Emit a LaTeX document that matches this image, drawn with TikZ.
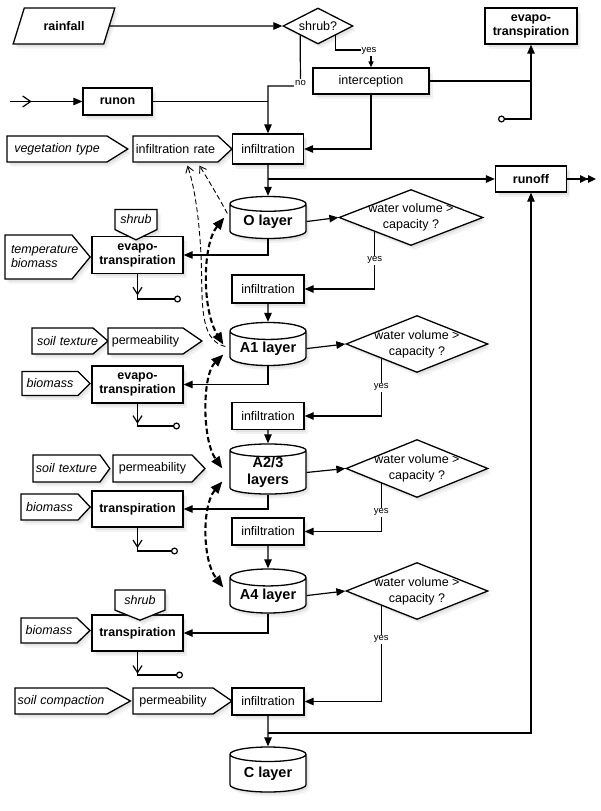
\documentclass[tikz,border=0pt]{standalone}
\usepackage{fontspec}
\setmainfont{Liberation Sans}
\usetikzlibrary{shapes.geometric,shapes.symbols,shadows,arrows.meta,decorations.markings,calc}
\begin{document}
\begin{tikzpicture}[x=1pt,y=-1pt,
  shad/.style={drop shadow={opacity=0.13,shadow xshift=2pt,shadow yshift=-2.5pt},drop shadow={opacity=0.1,shadow xshift=3.5pt,shadow yshift=-4.5pt}},
  base/.style={draw,line width=1.3pt,fill=white,shad,inner sep=0pt,align=center,font=\fontsize{12.5}{14}\selectfont},
  plainbox/.style={base,rectangle},
  boldbox/.style={base,rectangle,font=\bfseries\fontsize{12.5}{14}\selectfont},
  cyl/.style={base,cylinder,shape border rotate=90,aspect=0.3,minimum width=76pt,anchor=shape center,font=\bfseries\fontsize{14.5}{17}\selectfont},
  dia/.style={base,diamond,aspect=2.55,inner xsep=-14pt,inner ysep=-7pt,font=\fontsize{12.5}{16}\selectfont},
  sig/.style={base,signal,signal to=east,font=\itshape\fontsize{12.5}{14}\selectfont},
  sigup/.style={sig,font=\fontsize{12.5}{14}\selectfont},
  sigdown/.style={base,signal,signal to=south,inner ysep=5.5pt,font=\itshape\fontsize{12.5}{14}\selectfont},
  para/.style={base,trapezium,trapezium left angle=58,trapezium right angle=122,trapezium stretches=true,font=\bfseries\fontsize{12.5}{14}\selectfont},
  lbl/.style={fill=white,inner sep=1pt,font=\fontsize{9.5}{11}\selectfont},
  ln/.style={line width=1.2pt},
  arr/.style={ln,-{Triangle[length=9pt,width=7.5pt]}},
  smallarr/.style={ln,-{Triangle[length=6pt,width=5pt]}},
  dblarr/.style={ln,-{Triangle[length=8pt,width=7.5pt]Triangle[length=8pt,width=7.5pt]}},
  outln/.style={ln,-{Circle[open,length=7pt,width=7pt]},postaction={decorate},decoration={markings,mark=at position #1 with {\arrow{Straight Barb[length=7pt,width=9pt]}}}},
  inln/.style={arr,postaction={decorate},decoration={markings,mark=at position #1 with {\arrow{Straight Barb[length=8pt,width=11pt]}}}},
  tdash/.style={line width=2.1pt,dash pattern=on 5.5pt off 3pt,{Triangle[length=12pt,width=9.5pt]}-{Triangle[length=12pt,width=9.5pt]}},
  tndash/.style={line width=0.9pt,dash pattern=on 5pt off 3pt,-{Straight Barb[length=6pt,width=8pt]}}
]
\useasboundingbox (0,0) rectangle (600,811);

% ---- nodes ----
\node[para,minimum width=102pt,minimum height=36pt] (rain) at (64,26) {rainfall};
\node[base,diamond,aspect=2,minimum width=70pt,minimum height=36pt] (shrubq) at (318,26) {shrub?};
\node[boldbox,minimum width=92pt,minimum height=36pt] (evT) at (531,26) {evapo-\\transpiration};
\node[boldbox,minimum width=69pt,minimum height=27pt] (runon) at (117.5,101.5) {runon};
\node[plainbox,minimum width=116pt,minimum height=26pt] (interc) at (371,81) {interception};
\node[sig,text width=100pt,minimum height=26pt,signal pointer angle=64] (veg) at (57,149) {vegetation type};
\node[sigup,text width=85pt,minimum height=26pt,signal pointer angle=86] (irate) at (175.5,149) {infiltration rate};
\node[plainbox,minimum width=71pt,minimum height=30pt] (inf0) at (268,149) {infiltration};
\node[boldbox,minimum width=71pt,minimum height=26pt] (runoff) at (531,179) {runoff};
\node[cyl,minimum height=42pt] (O) at (268,217.5) {O layer};
\node[dia,minimum width=144pt,minimum height=56pt] (d1) at (411,217.5) {water volume >\\capacity ?};
\node[boldbox,minimum width=91pt,minimum height=37pt] (ev1) at (137.5,255) {evapo-\\transpiration};
\node[sigdown,text width=42pt,signal pointer angle=128] (sh1) at (136,219.5) {shrub};
\node[sig,text width=55pt,inner xsep=6pt,align=left,minimum height=44pt,signal pointer angle=101] (temp) at (38.5,257) {temperature\\biomass};
\coordinate (o1) at (181,299);
\node[plainbox,minimum width=72pt,minimum height=28pt] (inf1) at (268,289) {infiltration};
\node[sig,text width=61pt,align=left,minimum height=26pt,signal pointer angle=82] (st1) at (62.5,341) {\hspace*{5pt}\mbox{soil texture}};
\node[sigup,text width=75pt,minimum height=26pt,signal pointer angle=69] (pm1) at (145.5,341) {permeability};
\node[cyl,minimum height=43pt] (A1) at (268,344) {A1 layer};
\node[dia,minimum width=142pt,minimum height=57pt] (d2) at (417,344) {water volume >\\capacity ?};
\node[boldbox,minimum width=91pt,minimum height=37pt] (ev2) at (137.5,384.5) {evapo-\\transpiration};
\node[sig,text width=56pt,minimum height=24pt,signal pointer angle=90] (bm1) at (50,383.5) {biomass};
\coordinate (o2) at (180,426);
\node[plainbox,minimum width=72pt,minimum height=27pt] (inf2) at (268,416) {infiltration};
\node[cyl,minimum height=46pt] (A23) at (268,469) {A2/3\\layers};
\node[sig,text width=67pt,minimum height=27pt,signal pointer angle=108] (st2) at (66.5,468.5) {soil texture};
\node[sigup,text width=79pt,minimum height=27pt,signal pointer angle=92] (pm2) at (152.5,468.5) {permeability};
\node[dia,minimum width=142pt,minimum height=58pt] (d3) at (417,468.5) {water volume >\\capacity ?};
\node[boldbox,minimum width=91pt,minimum height=36pt] (tr1) at (137.5,509) {transpiration};
\node[sig,text width=57pt,minimum height=26pt,signal pointer angle=94] (bm2) at (49.5,507) {biomass};
\coordinate (o3) at (178,551);
\node[plainbox,minimum width=72pt,minimum height=27pt] (inf3) at (268,531.5) {infiltration};
\node[cyl,minimum height=44pt] (A4) at (268,591) {A4 layer};
\node[dia,minimum width=142pt,minimum height=57pt] (d4) at (417,591) {water volume >\\capacity ?};
\node[boldbox,minimum width=91pt,minimum height=36pt] (tr2) at (137.5,633) {transpiration};
\node[sigdown,text width=50pt,signal pointer angle=136] (sh2) at (140,600) {shrub};
\node[sig,text width=56pt,minimum height=25pt,signal pointer angle=88] (bm3) at (49,630.5) {biomass};
\coordinate (o4) at (183,675);
\node[sig,text width=92pt,minimum height=26pt,signal pointer angle=58] (sc) at (61,701) {soil compaction};
\node[sigup,text width=80pt,minimum height=26pt,signal pointer angle=69] (pm3) at (173,701) {permeability};
\node[plainbox,minimum width=72pt,minimum height=27pt] (inf4) at (268,701.5) {infiltration};
\node[cyl,minimum height=45pt] (C) at (268,769.5) {C layer};

% ---- helper coordinates ----
\coordinate (nocorner) at (300.5,86);
\coordinate (yescorner) at (371,50);
\coordinate (runin) at (10,101.5);
\coordinate (etc) at (498,119);
\coordinate (roend) at (596,179);
\coordinate (botj) at (268,733);

% ---- top connectors ----
\draw[arr] (rain.east) -- (shrubq.west);
\draw[arr] (shrubq.south west) -- (nocorner) -- (nocorner -| inf0.north) -- (inf0.north);
\node[lbl] at ($(nocorner)+(0,-3)$) {no};
\draw[smallarr] (shrubq.south east) |- (yescorner) -- (interc.north);
\node[lbl] at ($(yescorner)+(-2,1)$) {yes};
\draw[inln=0.3] (runin) -- (runon.west);
\draw[ln] (runon.east) -- (runon.east -| inf0.north);
\draw[ln] (interc.east) -- (interc.east -| evT.south);
\draw[ln,{Circle[open,length=7pt,width=7pt]}-{Triangle[length=9pt,width=7.5pt]}] (etc) -| (evT.south);
\draw[arr] (interc.south) |- (inf0.east);
\draw[arr] (inf0.south) -- (O.north);
\draw[arr] (inf0.south |- runoff.west) -- (runoff.west);
\draw[dblarr] (runoff.east) -- (roend);
\draw[arr] (botj) -| (runoff.south);

% ---- layers ----
\draw[arr] (O.east) -- (d1.west);
\draw[arr] (d1.south west) -- node[lbl]{yes} (d1.south west |- inf1.east) -- (inf1.east);
\draw[arr] (O.south) |- (ev1.east);
\draw[outln=0.31] (ev1.south) |- (o1);
\draw[arr] (inf1.south) -- (A1.north);

\draw[arr] (A1.east) -- (d2.west);
\draw[arr] (d2.south west) -- node[lbl]{yes} (d2.south west |- inf2.east) -- (inf2.east);
\draw[arr] (A1.south) |- (ev2.east);
\draw[outln=0.31] (ev2.south) |- (o2);
\draw[arr] (inf2.south) -- (A23.north);

\draw[arr] (A23.east) -- (d3.west);
\draw[arr] (d3.south west) -- node[lbl,pos=0.6]{yes} (d3.south west |- inf3.east) -- (inf3.east);
\draw[arr] (A23.south) |- (tr1.east);
\draw[outln=0.32] (tr1.south) |- (o3);
\draw[arr] (inf3.south) -- (A4.north);

\draw[arr] (A4.east) -- (d4.west);
\draw[arr] (d4.south west) -- node[lbl,pos=0.35]{yes} (d4.south west |- inf4.east) -- (inf4.east);
\draw[arr] (A4.south) |- (tr2.east);
\draw[outln=0.32] (tr2.south) |- (o4);
\draw[arr] (inf4.south) -- (C.north);

% ---- dashed exchanges ----
\draw[tdash] ($(O.west)+(-5,-4)$) .. controls (202,245) and (202,310) .. ($(A1.west)+(-6,-4)$);
\draw[tdash] ($(A1.west)+(-6,6)$) .. controls (202,375) and (202,440) .. ($(A23.west)+(-7,-4)$);
\draw[tdash] ($(A23.west)+(-7,9)$) .. controls (202,505) and (202,560) .. ($(A4.west)+(-6,-8)$);
\draw[tndash] ($(A1.west)+(-4,-2)$) .. controls (198,340) and (203,300) .. (201,255) .. controls (199,215) and (194,185) .. ($(irate.south)+(12,3)$);
\draw[tndash] ($(O.west)+(-2,-8)$) .. controls (218,196) and (207,178) .. ($(irate.south)+(24,3)$);
\end{tikzpicture}
\end{document}
